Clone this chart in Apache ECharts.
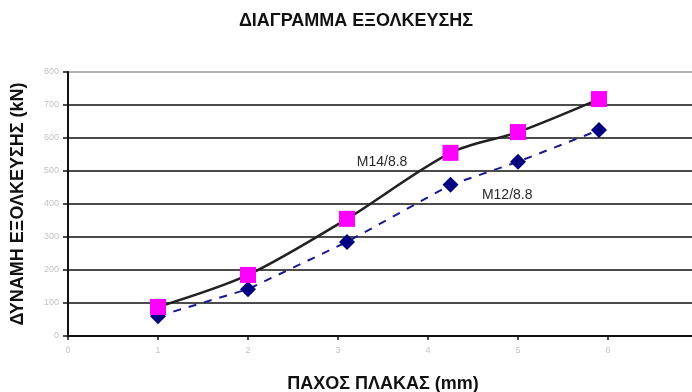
<!DOCTYPE html>
<html>
<head>
<meta charset="utf-8">
<script src="https://cdn.jsdelivr.net/npm/echarts@6/dist/echarts.min.js"></script>
<style>html,body{margin:0;padding:0;background:#fff}#c{width:692px;height:392px}</style>
</head>
<body>
<div id="c"></div>
<script>
const thickness = [1, 2, 3.1, 4.25, 5, 5.9];
const m14 = [88, 185, 355, 555, 618, 718];
const m12 = [60, 142, 285, 458, 528, 624];
const seriesNames = ['M14/8.8', 'M12/8.8'];
const labelPosM14 = [3.49, 527];
const labelPosM12 = [4.88, 427];
const yTicks = [0, 100, 200, 300, 400, 500, 600, 700, 800];

const chart = echarts.init(document.getElementById('c'), null, {renderer: 'canvas'});
const pairs = (xs, ys) => xs.map((x, i) => [x, ys[i]]);
const FF = 'Liberation Sans, Arial, sans-serif';
const labelFont = {fontFamily: FF, fontSize: 14, color: '#2a2a2a', fontWeight: 'normal'};
chart.setOption({
  animation: false,
  title: {
    text: 'ΔΙΑΓΡΑΜΜΑ ΕΞΟΛΚΕΥΣΗΣ',
    left: 356, top: 12, textAlign: 'center', padding: 0,
    textStyle: {fontFamily: FF, fontSize: 18, fontWeight: 'bold', color: '#111'}
  },
  grid: {left: 68, top: 72, bottom: 56, right: -6, containLabel: false, outerBoundsMode: 'none'},
  xAxis: {
    type: 'value', min: 0, max: 7, interval: 1,
    name: 'ΠΑΧΟΣ ΠΛΑΚΑΣ (mm)', nameLocation: 'middle', nameGap: 39,
    nameTextStyle: {fontFamily: FF, fontSize: 18, fontWeight: 'bold', color: '#111'},
    axisLine: {lineStyle: {color: '#111', width: 2}},
    axisTick: {show: true, length: 4, lineStyle: {color: '#111', width: 1.5}},
    axisLabel: {color: '#c4c4c4', fontSize: 9, margin: 10, showMaxLabel: false, fontFamily: FF},
    splitLine: {show: false}
  },
  yAxis: {
    type: 'value', min: 0, max: 800, interval: 100,
    name: 'ΔΥΝΑΜΗ ΕΞΟΛΚΕΥΣΗΣ (kN)', nameLocation: 'middle', nameGap: 41, nameRotate: 90,
    nameTextStyle: {fontFamily: FF, fontSize: 18, fontWeight: 'bold', color: '#111'},
    axisLine: {show: true, lineStyle: {color: '#111', width: 2}},
    axisTick: {show: true, length: 5, lineStyle: {color: '#111', width: 1.5}},
    axisLabel: {color: '#c4c4c4', fontSize: 9, margin: 9, fontFamily: FF},
    splitLine: {show: true, lineStyle: {color: ['#111','#111','#111','#111','#111','#111','#111','#111','#999'], width: 1.5}}
  },
  series: [
    {
      name: seriesNames[1], type: 'line', data: pairs(thickness, m12),
      symbol: 'diamond', symbolSize: 16,
      itemStyle: {color: '#000080'},
      lineStyle: {color: '#1a1a8c', width: 2, type: [8, 8]},
      markPoint: {
        symbol: 'circle', symbolSize: 0,
        label: {show: true, formatter: seriesNames[1], ...labelFont},
        data: [{coord: labelPosM12}]
      },
      z: 2
    },
    {
      name: seriesNames[0], type: 'line', data: pairs(thickness, m14),
      smooth: 0.3,
      symbol: 'rect', symbolSize: 16,
      itemStyle: {color: '#ff00ff'},
      lineStyle: {color: '#222', width: 2.5},
      markPoint: {
        symbol: 'circle', symbolSize: 0,
        label: {show: true, formatter: seriesNames[0], ...labelFont},
        data: [{coord: labelPosM14}]
      },
      z: 3
    }
  ]
});
</script>
</body>
</html>
